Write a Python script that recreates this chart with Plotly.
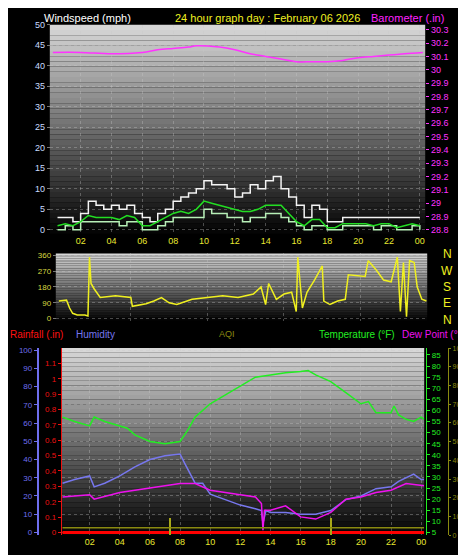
import plotly.graph_objects as go

W, H = 466, 555
# ---------------- data ----------------
hours = [0.5*i for i in range(1, 49)]
gust = [3,3,2,4,7,6,5,6,5,6,4,3,2,4,5,7,8,9,10,12,11,11,10,8,9,11,10,12,13,10,8,6,3,6,5,2,2,3,3,3,3,3,3,3,3,3,3,3]
wind_speed = [0,1,0,2,2,2,2,2,1,2,2,0,0,1,2,3,3,3,3,5,4,4,3,3,2,3,3,4,4,3,2,1,0,1,1,0,0,1,1,1,1,0,1,1,0,0,1,0]
wind_avg = [1,1.5,1,2,3.5,3,3,3,2.5,3.5,3,1,1,2,3,4,4.5,4,5,7,6.5,6,5.5,5,4.5,4.5,5,6,6,6,4,2,1,2.5,2.5,0.5,0.5,1.5,1.5,1.5,1.5,1,1.5,1.5,0.5,1,1.5,1]

baro_t = [0.2,2,4,6,7,8,9,9.5,11,12,13,14,15,16,17,18,19,20,21,22,23,24.2]
baro = [30.13,30.13,30.12,30.13,30.15,30.16,30.17,30.18,30.17,30.15,30.12,30.10,30.08,30.06,30.06,30.06,30.07,30.09,30.10,30.11,30.12,30.13]

dir_t = [0.3,0.8,1.0,1.2,1.5,2.0,2.2,2.3,2.4,2.6,3,4,5,5.1,6,6.5,7,7.5,8,9,10,11,12,13,13.5,13.8,14,14.5,15,15.5,15.8,15.9,16.2,16.5,17,17.5,17.6,18,18.5,19,19.2,20.3,20.5,21,21.5,22,22.4,22.6,22.8,23,23.2,23.5,23.7,24,24.3]
wind_dir = [100,105,60,30,20,20,15,350,200,170,120,130,120,70,85,100,120,90,80,110,120,130,120,140,180,80,200,110,140,150,40,350,60,150,220,300,100,80,100,110,250,240,330,280,220,210,350,40,320,10,330,320,180,110,100]

temp_t = [0.2,1,2,2.3,3,4,4.5,5,6,7,8,8.5,9,10,11,12,13,14,15,16,16.5,17,18,19,20,20.5,21,22,22.2,22.5,23,23.5,24,24.2]
temp = [57,55,53,57,55,53,52,49,46,45,46,51,57,63,67,71,75,76,77,77.5,78,76,73,68,63,64,59,59,62,58,56,55,57,56]
hum_t = [0.2,1,2,2.3,3,4,5,6,7,8,8.3,9,9.5,10,11,12,13,13.4,13.5,13.7,14,15,16,17,18,19,20,21,22,22.5,23.5,24,24.2]
humidity = [27,29,31,25,27,31,36,40,42,43,38,27,27,21,18,15,13,12,5,12,11,11,10,10,12,18,20,24,25,28,32,29,29]
dew_t = [0.2,2,2.3,4,6,8,9,10,12,13,13.4,13.5,13.6,14,15,16,17,18,19,20,21,22,23,24,24.2]
dew = [21,22,20,23,25,27,27,24,22,21,18,6,15,15,17,12,11,14,20,21,23,24,27,26,26]
rain_t = [0.2, 24.2]
rain = [0, 0]
aqi_t = [0.2, 24.2]
aqi = [4, 4]
aqi_bar_t = [7.3, 18.0]
aqi_bar = [9, 9]

tickvals = list(range(2, 26, 2))
ticktext = ["02","04","06","08","10","12","14","16","18","20","22","00"]

# ---------------- layout helpers ----------------
def px_x(p): return p / W
def px_y(p): return 1 - p / H

FONT = "Liberation Sans"
fig = go.Figure()

def band_shapes(x0, x1, y0, y1, n=40, top=215, bot=5):
    shapes = []
    for i in range(n):
        g = int(top + (bot - top) * i / (n - 1))
        ya = y0 + (y1 - y0) * i / n
        yb = y0 + (y1 - y0) * (i + 1) / n
        shapes.append(dict(type="rect", xref="paper", yref="paper", x0=px_x(x0), x1=px_x(x1),
                           y0=px_y(yb), y1=px_y(ya), fillcolor=f"rgb({g},{g},{g})",
                           line_width=0, layer="below"))
    return shapes

shapes = band_shapes(42, 419, 12, 224) + band_shapes(48, 421, 244, 312) + band_shapes(54, 418, 340, 530)

fig.add_trace(go.Scatter(x=hours, y=gust, mode="lines", line=dict(color="#f4f4f4", width=1.5, shape="hv"), xaxis="x", yaxis="y"))
fig.add_trace(go.Scatter(x=hours, y=wind_speed, mode="lines", line=dict(color="#b8f0b8", width=1.5, shape="hv"), xaxis="x", yaxis="y"))
fig.add_trace(go.Scatter(x=hours, y=wind_avg, mode="lines", line=dict(color="#22dd22", width=1.5), xaxis="x", yaxis="y"))
fig.add_trace(go.Scatter(x=baro_t, y=baro, mode="lines", line=dict(color="#ff33ff", width=1.5, shape="spline"), xaxis="x", yaxis="y2"))
fig.add_trace(go.Scatter(x=dir_t, y=wind_dir, mode="lines", line=dict(color="#f0f020", width=1.5), xaxis="x2", yaxis="y3"))
fig.add_trace(go.Scatter(x=rain_t, y=rain, mode="lines", line=dict(color="#ff0000", width=3), xaxis="x3", yaxis="y5"))
fig.add_trace(go.Scatter(x=aqi_t, y=aqi, mode="lines", line=dict(color="#8a8a10", width=1.5), xaxis="x3", yaxis="y7"))
fig.add_trace(go.Bar(x=aqi_bar_t, y=aqi_bar, width=0.08, marker=dict(color="#a8a818", line_width=0), xaxis="x3", yaxis="y7"))
fig.add_trace(go.Scatter(x=temp_t, y=temp, mode="lines", line=dict(color="#22ee22", width=1.5), xaxis="x3", yaxis="y6"))
fig.add_trace(go.Scatter(x=hum_t, y=humidity, mode="lines", line=dict(color="#7777ee", width=1.5), xaxis="x3", yaxis="y4"))
fig.add_trace(go.Scatter(x=dew_t, y=dew, mode="lines", line=dict(color="#ee11ee", width=1.5), xaxis="x3", yaxis="y6"))

grid = dict(showgrid=True, gridcolor="rgba(200,200,200,0.35)", griddash="dot", gridwidth=1, zeroline=False)
xcommon = dict(tickvals=tickvals, ticktext=ticktext, tickfont=dict(color="#e8e830", size=9, family=FONT),
               ticks="", **grid)

layout = dict(
    width=W, height=H, margin=dict(l=0, r=0, t=0, b=0), paper_bgcolor="black", plot_bgcolor="rgba(0,0,0,0)",
    showlegend=False, shapes=shapes, bargap=0,
    xaxis=dict(domain=[px_x(42), px_x(419)], range=[0, 24.35], anchor="y", **xcommon),
    xaxis2=dict(domain=[px_x(48), px_x(421)], range=[0.1, 24.35], anchor="y3", showticklabels=False, **grid),
    xaxis3=dict(domain=[px_x(54), px_x(418)], range=[0.15, 24.2], anchor="y4", **xcommon),
    yaxis=dict(domain=[px_y(224), px_y(12)], range=[-0.96, 50], anchor="free", position=px_x(42), tickvals=list(range(0, 51, 5)),
               tickfont=dict(color="#c8dcff", size=9, family=FONT), ticks="outside", ticklen=3, tickcolor="#777", **grid),
    yaxis2=dict(domain=[px_y(224), px_y(12)], range=[28.77, 30.337], overlaying="y", side="right", anchor="free", position=px_x(419),
                tickvals=[round(28.8+0.1*i, 1) for i in range(16)], tickfont=dict(color="#ff33ff", size=9, family=FONT),
                ticks="outside", ticklen=3, tickcolor="#ff33ff", showgrid=False, zeroline=False),
    yaxis3=dict(domain=[px_y(312), px_y(244)], range=[-11, 371], anchor="free", position=px_x(48), tickvals=[0, 90, 180, 270, 360],
                tickfont=dict(color="#d8d840", size=8, family=FONT), ticks="outside", ticklen=3, tickcolor="#777", **grid),
    yaxis4=dict(domain=[px_y(530), px_y(340)], range=[-1.6, 101.1], anchor="free", position=px_x(30), tickvals=list(range(0, 101, 10)),
                tickfont=dict(color="#6f6fee", size=8, family=FONT), ticks="outside", ticklen=3, tickcolor="#6f6fee",
                showline=True, linecolor="#6f6fee", linewidth=2, **grid),
    yaxis5=dict(domain=[px_y(530), px_y(340)], range=[-0.019, 1.2], overlaying="y4", anchor="free", position=px_x(53),
                tickvals=[round(0.1*i, 1) for i in range(12)], tickfont=dict(color="#ee1111", size=8, family=FONT),
                ticks="outside", ticklen=3, tickcolor="#ee1111", showline=True, linecolor="#ee1111", linewidth=1,
                showgrid=False, zeroline=False),
    yaxis6=dict(domain=[px_y(530), px_y(340)], range=[3.67, 88.1], overlaying="y4", side="right", anchor="free", position=px_x(420),
                tickvals=list(range(5, 86, 5)), tickfont=dict(color="#22ee22", size=8, family=FONT), ticks="outside", ticklen=3,
                tickcolor="#22ee22", showline=True, linecolor="#22ee22", showgrid=False, zeroline=False),
    yaxis7=dict(domain=[px_y(530), px_y(340)], range=[0, 100], overlaying="y4", side="right", anchor="free", position=px_x(442),
                tickvals=list(range(0, 101, 10)), tickfont=dict(color="#8a8a10", size=7, family=FONT), ticks="outside", ticklen=2,
                tickcolor="#8a8a10", showline=True, linecolor="#8a8a10", showgrid=False, zeroline=False),
)
fig.update_layout(**layout)

def txt(x, y, s, color, anchor="left", size=11):
    fig.add_annotation(xref="paper", yref="paper", x=px_x(x), y=px_y(y), text=s, showarrow=False,
                       xanchor=anchor, yanchor="middle", font=dict(color=color, size=size, family=FONT))

txt(34, 5, "Windspeed (mph)", "white")
txt(261, 5, "24 hour graph day : February 06 2026", "#f0f020", "center")
txt(440, 5, "Barometer (.in)", "#ff22ff", "right")
for i, ch in enumerate("NWSEN"):
    txt(441, 245 + i * 16.5, ch, "#f0f020", "center", 12)
txt(0, 326, "Rainfall (.in)", "#ff1111", size=10)
txt(66, 326, "Humidity", "#7777ee", size=10)
txt(220, 326, "AQI", "#8a8a10", "center", 9)
txt(310, 326, "Temperature (°F)", "#22ee22", size=10)
txt(394, 326, "Dew Point (°F)", "#ee11ee", "left", size=10)

fig.write_html("out.html")
